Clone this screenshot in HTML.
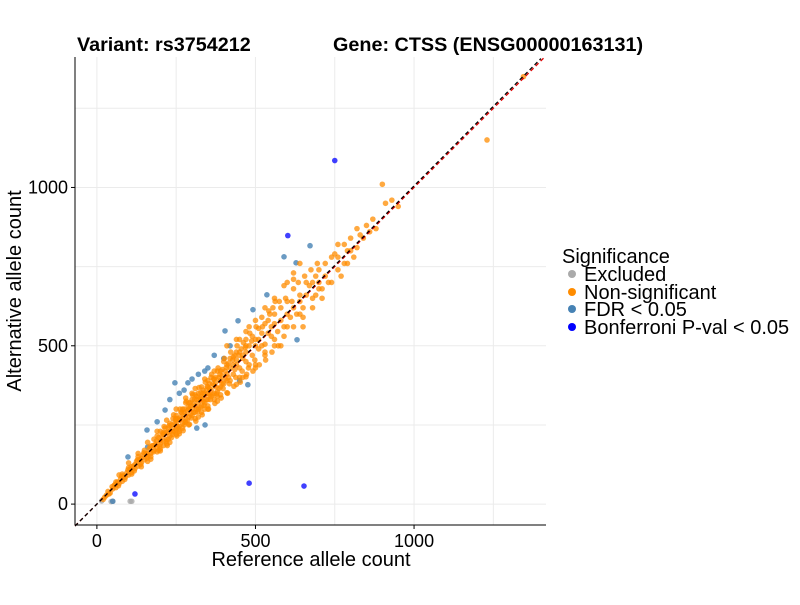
<!DOCTYPE html>
<html><head><meta charset="utf-8"><style>
body{margin:0;background:#fff;font-family:"Liberation Sans",Arial,sans-serif}
</style></head><body>
<svg id="chart" width="800" height="600" style="font-family:'Liberation Sans',Arial,sans-serif">
<text x="77" y="51" font-size="19.8" font-weight="bold">Variant: rs3754212</text>
<text x="333" y="51" font-size="19.8" font-weight="bold">Gene: CTSS (ENSG00000163131)</text>
<g id="grid"></g><g id="pts"></g><g id="axes"></g>
<text x="311" y="566" font-size="20" text-anchor="middle">Reference allele count</text>
<text transform="translate(21,291) rotate(-90)" font-size="20" text-anchor="middle">Alternative allele count</text>
<g font-size="20">
<text x="562" y="263">Significance</text>
<g><circle cx="572" cy="274" r="4" fill="#aaaaaa"/><text x="584" y="281">Excluded</text></g>
<g><circle cx="572" cy="292" r="4" fill="#FF8C00"/><text x="584" y="299">Non-significant</text></g>
<g><circle cx="572" cy="309" r="4" fill="#4682B4"/><text x="584" y="316">FDR &lt; 0.05</text></g>
<g><circle cx="572" cy="327" r="4" fill="#0000FF"/><text x="584" y="334">Bonferroni P-val &lt; 0.05</text></g>
</g>
</svg>
<script>
const xTicks=[0,500,1000];
const yTicks=[0,500,1000];
const minorTicks=[250,750,1250];
const excluded=[[15,10],[45,8],[50,9],[105,9],[110,9]];
const nonSig=[[20,15],[30,28],[35,40],[42,35],[50,48],[55,60],[60,52],[65,70],[70,65],[75,80],[80,72],[85,90],[90,85],[95,100],[100,92],[105,110],[110,100],[115,120],[120,112],[125,135],[130,120],[135,140],[140,130],[145,155],[150,140],[155,160],[160,150],[165,175],[170,160],[175,185],[180,170],[185,190],[190,178],[195,210],[200,190],[205,215],[210,200],[215,225],[220,205],[225,240],[230,215],[235,250],[240,228],[245,255],[250,235],[255,270],[260,245],[265,275],[270,255],[275,290],[280,262],[285,295],[290,275],[295,310],[300,280],[305,315],[310,290],[315,330],[320,300],[325,335],[330,310],[335,350],[340,320],[345,360],[350,330],[355,365],[360,340],[365,380],[370,350],[375,385],[380,355],[385,400],[390,370],[395,405],[400,380],[405,420],[410,390],[420,430],[430,410],[440,455],[450,430],[460,470],[470,450],[480,500],[490,470],[500,520],[510,490],[520,540],[530,505],[150,170],[160,135],[200,230],[220,190],[250,280],[270,240],[300,330],[310,270],[330,370],[340,300],[360,400],[370,330],[380,420],[390,345],[400,450],[420,390],[440,480],[450,400],[470,520],[480,440],[330,290],[350,390],[280,320],[240,270],[260,230],[190,215],[170,150],[130,150],[110,95],[100,115],[80,95],[60,70],[540,580],[550,530],[560,600],[570,545],[580,620],[590,560],[600,640],[610,590],[620,680],[630,600],[640,660],[650,620],[660,700],[670,690],[680,650],[690,720],[700,740],[710,680],[720,760],[730,700],[740,780],[750,790],[760,740],[780,820],[790,800],[800,840],[810,780],[820,870],[830,850],[850,880],[870,900],[880,870],[900,1010],[910,950],[930,960],[950,940],[1230,1150],[1345,1350],[560,570],[600,700],[620,710],[650,560],[700,680],[820,810],[520,590],[640,760],[580,500],[690,660],[480,560],[450,520],[460,400],[530,470],[500,430],[210,220],[230,230],[250,255],[270,270],[290,300],[310,310],[330,330],[350,350],[370,375],[390,390],[410,410],[430,440],[280,280],[300,300],[320,320],[340,345],[360,360],[260,265],[240,240],[220,225],[200,200],[180,185],[160,160],[140,145],[120,125],[320,350],[350,310],[300,350],[380,340],[420,460],[250,220],[200,175],
[25,22],[38,32],[48,55],[58,62],[68,58],[78,88],[88,78],[98,108],[108,118],[118,105],[128,140],[138,125],[148,162],[158,145],[168,182],[178,165],[188,200],[198,182],[208,225],[218,198],[228,248],[238,220],[248,268],[258,238],[268,288],[278,258],[288,308],[298,272],[308,330],[318,292],[328,352],[338,312],[348,372],[358,330],[368,395],[378,348],[388,410],[398,365],[408,432],[418,380],[428,455],[438,400],[448,470],[458,420],[468,495],[478,430],[488,515],[498,455],[215,240],[225,205],[245,230],[265,290],[285,265],[305,290],[325,305],[345,330],[365,345],[385,365],[405,395],[275,300],[295,320],[315,340],[335,360],[355,380],[375,400],[395,425],[415,445],[435,470],[455,490],[235,210],[255,245],[275,250],[295,285],[315,300],[335,325],[355,345],[375,370],[395,380],[415,400],[435,425],[190,165],[210,185],[230,255],[250,270],[270,300],[290,320],[310,345],[330,340],[350,370],[370,395],[390,420],[410,440],[430,465],[450,480],[470,500],[490,530],[510,555],[530,570],[545,600],[555,620],[575,640],[595,650],[615,640],[635,700],[655,720],[675,740],[695,760],[600,600],[620,620],[640,640],[660,660],[580,580],[540,540],[500,500],[460,460],[440,440],[470,480],[510,520],[550,560],[520,500],[560,520],[600,560],[640,600],[680,700],[720,720],[760,780],[800,800],[840,840],[860,860],[760,820],[780,760],[700,700],
[180,205],[195,170],[212,245],[222,185],[242,282],[252,215],[262,300],[272,232],[282,325],[292,252],[302,345],[312,262],[322,368],[332,282],[342,385],[352,300],[362,410],[372,318],[382,430],[392,335],[402,460],[412,350],[422,480],[432,372],[442,500],[452,385],[462,510],[472,410],[482,540],[492,420],[502,560],[512,440],[522,560],[532,455],[542,610],[552,480],[562,640],[572,500],[410,500],[440,520],[470,545],[500,580],[530,620],[560,650],[590,690],[620,730],[370,420],[340,395],[310,365],[280,335],[250,300],[220,265],[190,230],[160,195],[130,160],[100,130],[70,92],[140,118],[170,142],[200,168],[230,195],[260,222],[290,250],[320,275],[350,300],[380,325],[410,352],[440,378],[470,402],[500,440],[530,480],[560,500],[590,530],[620,560],[650,590],[680,620],[710,650],[740,700],[770,720],[790,760]];
const fdr=[[50,9],[98,149],[158,234],[215,297],[246,383],[287,383],[300,395],[275,360],[230,330],[190,260],[160,180],[260,350],[320,410],[340,420],[350,430],[404,547],[445,579],[492,614],[536,661],[590,781],[628,762],[672,816],[631,519],[476,377],[341,250],[315,240],[400,460],[450,390],[370,470],[420,500]];
const bonf=[[120,32],[480,66],[653,57],[602,848],[750,1085]];
const L=75,R=546,T=57,B=525;
const xMin=-69,xMax=1416,yMin=-66,yMax=1412;
function sx(v){return L+(v-xMin)/(xMax-xMin)*(R-L);}
function sy(v){return B-(v-yMin)/(yMax-yMin)*(B-T);}
const NS="http://www.w3.org/2000/svg";
function mk(tag,attrs,parent){const e=document.createElementNS(NS,tag);for(const k in attrs)e.setAttribute(k,attrs[k]);parent.appendChild(e);return e;}
const grid=document.getElementById('grid'),pts=document.getElementById('pts'),axes=document.getElementById('axes');
minorTicks.concat(xTicks).forEach(v=>{const l=mk('line',{x1:sx(v),x2:sx(v),y1:T,y2:B,stroke:'#ebebeb','stroke-width':1},grid);

});
minorTicks.concat(yTicks).forEach(v=>{const l=mk('line',{x1:L,x2:R,y1:sy(v),y2:sy(v),stroke:'#ebebeb','stroke-width':1},grid);

});
function draw(arr,col,op,name){arr.forEach(p=>{const c=mk('circle',{cx:sx(p[0]),cy:sy(p[1]),r:2.8,fill:col,'fill-opacity':op},pts);

});}
draw(excluded,'#aaaaaa',0.8,'point-excluded');
draw(fdr,'#4682B4',0.8,'point-fdr');
draw(nonSig,'#FF8C00',0.75,'point-non-significant');
draw(bonf,'#0000FF',0.75,'point-bonferroni');
const d1=mk('line',{x1:sx(xMin),y1:sy(xMin),x2:sx(yMax),y2:sy(yMax),stroke:'#e00000','stroke-width':1.3,'stroke-dasharray':'4,3'},pts);


const d2=mk('line',{x1:sx(xMin),y1:sy(xMin*1.005),x2:sx(1400),y2:sy(1400*1.005),stroke:'#000','stroke-width':1.3,'stroke-dasharray':'4,3'},pts);


const xa=mk('line',{x1:L,x2:R,y1:B,y2:B,stroke:'#000','stroke-width':1},axes);


const ya=mk('line',{x1:L,x2:L,y1:T,y2:B,stroke:'#000','stroke-width':1},axes);


xTicks.forEach(v=>{mk('line',{x1:sx(v),x2:sx(v),y1:B,y2:B+4,stroke:'#000'},axes);
const t=mk('text',{x:sx(v),y:B+22,'font-size':18,'text-anchor':'middle'},axes);t.textContent=v;

});
yTicks.forEach(v=>{mk('line',{x1:L-4,x2:L,y1:sy(v),y2:sy(v),stroke:'#000'},axes);
const t=mk('text',{x:L-7,y:sy(v)+6,'font-size':18,'text-anchor':'end'},axes);t.textContent=v;

});
</script>
</body></html>
